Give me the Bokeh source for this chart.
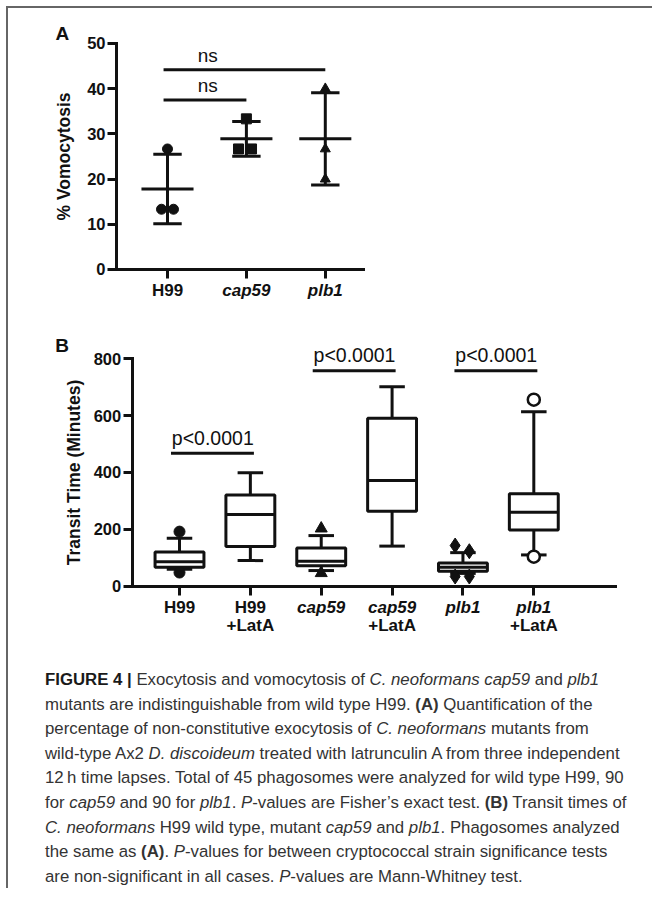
from bokeh.plotting import figure
from bokeh.models import FixedTicker, Range1d, Div
from bokeh.layouts import column
from bokeh.embed import file_html
from bokeh.resources import INLINE
from bokeh.core.properties import value

# ---------------- Panel A data ----------------
A_GROUPS = ["H99", "cap59", "plb1"]
A_ITALIC = [False, True, True]
A_H99 = [26.67, 13.33, 13.33]
A_CAP59 = [33.33, 26.67, 26.67]
A_PLB1 = [40.0, 26.67, 20.0]
A_MEAN = [17.8, 28.9, 28.9]
A_SD = [7.7, 3.85, 10.2]
A_YTICKS = [0, 10, 20, 30, 40, 50]
A_SIG_TEXT = ["ns", "ns"]
A_SIG_FROM = [0, 0]
A_SIG_TO = [2, 1]
A_SIG_Y = [44.2, 37.5]

# ---------------- Panel B data ----------------
B_LABEL_TOP = ["H99", "H99", "cap59", "cap59", "plb1", "plb1"]
B_LABEL_BOTTOM = ["", "+LatA", "", "+LatA", "", "+LatA"]
B_TOP_ITALIC = [False, False, True, True, True, True]
B_Q1 = [67, 140, 72, 264, 53, 198]
B_MED = [86, 252, 88, 372, 67, 260]
B_Q3 = [120, 321, 134, 591, 82, 325]
B_WLO = [60, 90, 55, 141, 45, 110]
B_WHI = [169, 399, 178, 702, 118, 614]
B_OUT_H99 = [192, 48]
B_OUT_CAP59 = [203, 46]
B_OUT_PLB1 = [143, 123, 34, 34]
B_OUT_PLB1_LATA = [656, 104]
B_YTICKS = [0, 200, 400, 600, 800]
B_SIG_TEXT = ["p<0.0001", "p<0.0001", "p<0.0001"]
B_SIG_FROM = [0, 2, 4]
B_SIG_TO = [1, 3, 5]
B_SIG_Y = [468, 758, 758]

FONT = "Liberation Sans"
INK = "#111111"


def style_axes(p, xticks, yticks, xloc, yloc, xbounds, ybounds):
    p.xgrid.visible = False
    p.ygrid.visible = False
    p.outline_line_color = None
    for ax in (p.xaxis[0], p.yaxis[0]):
        ax.axis_line_width = 3
        ax.axis_line_color = INK
        ax.axis_line_cap = "square"
        ax.major_tick_line_width = 3
        ax.major_tick_line_color = INK
        ax.major_tick_out = 9
        ax.major_tick_in = 0
        ax.minor_tick_line_color = None
        ax.major_label_text_font = FONT
        ax.major_label_text_font_style = "bold"
        ax.major_label_text_font_size = "16.5px"
        ax.major_label_text_color = INK
        ax.major_label_standoff = 2
        ax.axis_label_text_font = FONT
        ax.axis_label_text_font_style = "bold"
        ax.axis_label_text_font_size = "17.5px"
        ax.axis_label_text_color = INK
    p.xaxis[0].ticker = FixedTicker(ticks=xticks)
    p.xaxis[0].major_label_overrides = {t: "" for t in xticks}
    p.xaxis[0].fixed_location = xloc
    p.xaxis[0].bounds = xbounds
    p.yaxis[0].ticker = FixedTicker(ticks=yticks)
    p.yaxis[0].fixed_location = yloc
    p.yaxis[0].bounds = ybounds


def add_text(p, xs, ys, texts, size, style="bold"):
    p.text(x=xs, y=ys, text=texts, text_font=value(FONT), text_font_size=size,
           text_font_style=style, text_color=INK, text_align="center", text_baseline="middle")


# ================= Panel A =================
pA = figure(width=644, height=302, x_range=Range1d(-2.0152, 6.147), y_range=Range1d(-9.071, 57.743),
            output_backend="svg", toolbar_location=None,
            min_border_left=0, min_border_right=0, min_border_top=0, min_border_bottom=0,
            background_fill_color="white", border_fill_color="white", margin=0)
style_axes(pA, [0, 1, 2], A_YTICKS, 0, -0.6464, (-0.6464, 2.484), (0, 50))
pA.yaxis[0].axis_label = "% Vomocytosis"
pA.yaxis[0].axis_label_standoff = 10

jit = [0.0, -0.076, 0.076]
jit_sq = [0.0, -0.1, 0.065]
xs, ys, mk = [], [], []
for i, (vals, m, jj) in enumerate([(A_H99, "circle", jit), (A_CAP59, "square", jit_sq), (A_PLB1, "triangle", [0, 0, 0])]):
    for v, j in zip(vals, jj):
        xs.append(i + j)
        ys.append(v)
        mk.append(m)
pA.scatter(x=xs, y=ys, marker=mk, size=10, fill_color=INK, line_color=INK)

cx = list(range(len(A_GROUPS)))
pA.segment(x0=[c - 0.33 for c in cx], x1=[c + 0.33 for c in cx], y0=A_MEAN, y1=A_MEAN,
           line_width=3, line_color=INK)
lo = [m - s for m, s in zip(A_MEAN, A_SD)]
hi = [m + s for m, s in zip(A_MEAN, A_SD)]
pA.segment(x0=cx, x1=cx, y0=lo, y1=hi, line_width=3, line_color=INK)
pA.segment(x0=[c - 0.18 for c in cx] * 2, x1=[c + 0.18 for c in cx] * 2, y0=lo + hi, y1=lo + hi,
           line_width=3, line_color=INK)

pA.segment(x0=[a - 0.05 for a in A_SIG_FROM], x1=A_SIG_TO, y0=A_SIG_Y, y1=A_SIG_Y,
           line_width=3, line_color=INK)
add_text(pA, [0.51, 0.51], [y + 3.2 for y in A_SIG_Y], A_SIG_TEXT, "19px", "normal")

add_text(pA, [-1.331], [52.2], ["A"], "19px")
for i, (g, it) in enumerate(zip(A_GROUPS, A_ITALIC)):
    add_text(pA, [i], [-4.65], [g], "17px", "bold italic" if it else "bold")

# ================= Panel B =================
pB = figure(width=644, height=355, x_range=Range1d(-2.4132, 6.675), y_range=Range1d(-279.0, 969.9),
            output_backend="svg", toolbar_location=None,
            min_border_left=0, min_border_right=0, min_border_top=0, min_border_bottom=0,
            background_fill_color="white", border_fill_color="white", margin=0)
style_axes(pB, list(range(6)), B_YTICKS, 0, -0.6675, (-0.6675, 6.153), (0, 800))
pB.yaxis[0].axis_label = "Transit Time (Minutes)"
pB.yaxis[0].axis_label_standoff = 7

bx = list(range(len(B_Q1)))
pB.segment(x0=bx, x1=bx, y0=B_WLO, y1=B_Q1, line_width=3, line_color=INK)
pB.segment(x0=bx, x1=bx, y0=B_Q3, y1=B_WHI, line_width=3, line_color=INK)
pB.segment(x0=[c - 0.18 for c in bx] * 2, x1=[c + 0.18 for c in bx] * 2,
           y0=B_WLO + B_WHI, y1=B_WLO + B_WHI, line_width=3, line_color=INK)
pB.quad(left=[c - 0.345 for c in bx], right=[c + 0.345 for c in bx], bottom=B_Q1, top=B_Q3,
        fill_color="white", line_color=INK, line_width=3)
pB.segment(x0=[c - 0.345 for c in bx], x1=[c + 0.345 for c in bx], y0=B_MED, y1=B_MED,
           line_width=3, line_color=INK)

pB.scatter(x=[0] * len(B_OUT_H99), y=B_OUT_H99, marker="circle", size=11, fill_color=INK, line_color=INK)
pB.scatter(x=[2] * len(B_OUT_CAP59), y=B_OUT_CAP59, marker="triangle", size=12, fill_color=INK, line_color=INK)
pB.scatter(x=[4 - 0.11, 4 + 0.09, 4 - 0.11, 4 + 0.09], y=B_OUT_PLB1, marker="diamond", size=15,
           fill_color=INK, line_color=INK)
pB.scatter(x=[5] * len(B_OUT_PLB1_LATA), y=B_OUT_PLB1_LATA, marker="circle", size=12,
           fill_color="white", line_color=INK, line_width=2.5)

pB.segment(x0=[a - 0.12 for a in B_SIG_FROM], x1=[b + 0.05 for b in B_SIG_TO], y0=B_SIG_Y, y1=B_SIG_Y,
           line_width=3, line_color=INK)
add_text(pB, [(a + b) / 2 - 0.03 for a, b in zip(B_SIG_FROM, B_SIG_TO)], [y + 54 for y in B_SIG_Y],
         B_SIG_TEXT, "19.5px", "normal")

add_text(pB, [-1.655], [846.8], ["B"], "19px")
for i, (t, b, it) in enumerate(zip(B_LABEL_TOP, B_LABEL_BOTTOM, B_TOP_ITALIC)):
    add_text(pB, [i], [-73.9], [t], "17px", "bold italic" if it else "bold")
    if b:
        add_text(pB, [i], [-138.2], [b], "17px", "bold")

# ================= Caption =================
CAPTION_LINES = [
    "<b style='color:#1a1a1a'>FIGURE 4 |</b> Exocytosis and vomocytosis of <i>C. neoformans cap59</i> and <i>plb1</i>",
    "mutants are indistinguishable from wild type H99. <b>(A)</b> Quantification of the",
    "percentage of non-constitutive exocytosis of <i>C. neoformans</i> mutants from",
    "wild-type Ax2 <i>D. discoideum</i> treated with latrunculin A from three independent",
    "12\u2009h time lapses. Total of 45 phagosomes were analyzed for wild type H99, 90",
    "for <i>cap59</i> and 90 for <i>plb1</i>. <i>P</i>-values are Fisher\u2019s exact test. <b>(B)</b> Transit times of",
    "<i>C. neoformans</i> H99 wild type, mutant <i>cap59</i> and <i>plb1</i>. Phagosomes analyzed",
    "the same as <b>(A)</b>. <i>P</i>-values for between cryptococcal strain significance tests",
    "are non-significant in all cases. <i>P</i>-values are Mann-Whitney test.",
]
caption_html = ("<div style=\"font-family:'Liberation Sans';font-size:16.8px;line-height:24.6px;"
                "color:#333333;padding-left:37px;padding-top:3px;white-space:nowrap;\">"
                + "<br>".join(CAPTION_LINES) + "</div>")
cap = Div(text=caption_html, width=644, height=223, margin=0)

layout = column(pA, pB, cap, spacing=0, margin=(6, 0, 0, 6),
                styles={"border-top": "2px solid #666666", "border-left": "2px solid #666666"})

with open("out.html", "w") as f:
    f.write(file_html(layout, INLINE))
